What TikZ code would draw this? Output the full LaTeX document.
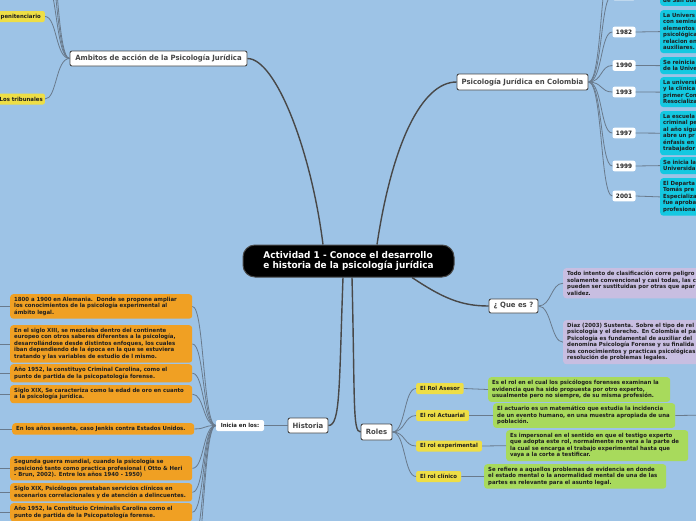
\documentclass[tikz,border=0pt]{standalone}
\usepackage{fontspec}
\setmainfont{DejaVu Sans}[FakeStretch=0.96]
\usetikzlibrary{calc}
\definecolor{bgblue}{RGB}{157,195,230}
\definecolor{orangebox}{RGB}{240,160,35}
\definecolor{yellowbox}{RGB}{238,222,70}
\definecolor{greenbox}{RGB}{168,218,92}
\definecolor{cyanbox}{RGB}{20,200,225}
\definecolor{purplebox}{RGB}{200,190,225}
\definecolor{mainline}{RGB}{72,72,72}
\definecolor{subline}{RGB}{105,122,140}
\definecolor{topictext}{RGB}{70,70,70}
\definecolor{desctext}{RGB}{30,30,30}
\newcommand\fsmall{\fontsize{5.6}{6.5}\selectfont\bfseries}
\newcommand\fmid{\fontsize{7.2}{9}\selectfont\bfseries}
\newcommand\fbig{\fontsize{9.3}{10.6}\selectfont\bfseries}
\newcommand\fyear{\fontsize{6.0}{7}\selectfont\bfseries}
\begin{document}
\begin{tikzpicture}[x=1pt,y=-1pt,
  central/.style={fill=black, draw=mainline, line width=1pt, rounded corners=12pt, minimum width=211pt, minimum height=32pt, text=white, font=\fbig, align=left, inner sep=0pt},
  topic/.style={fill=white, draw=mainline, line width=0.9pt, rounded corners=2pt, text=topictext, font=\fmid, inner sep=0pt},
  plainbox/.style={fill=white, rounded corners=2pt, text=desctext, font=\fsmall, inner sep=0pt},
  yearbox/.style={fill=white, rounded corners=2pt, text=desctext, font=\fyear, minimum width=23pt, minimum height=10.6pt, inner sep=0pt},
  desc/.style={rounded corners=3pt, inner xsep=4pt, inner ysep=3pt, align=left, font=\fsmall, text=desctext, anchor=north west},
  cyanb/.style={desc, fill=cyanbox, inner xsep=3pt, text width=110pt},
  purpleb/.style={desc, fill=purplebox, text width=250pt},
  greenb/.style={desc, fill=greenbox, text width=174pt},
  orangeb/.style={desc, fill=orangebox, text width=174pt},
  yellowb/.style={fill=yellowbox, rounded corners=2pt, font=\fsmall, text=desctext, inner xsep=4pt, inner ysep=0pt, minimum height=11pt},
  mainl/.style={draw=mainline, line width=1.4pt},
  subl/.style={draw=subline, line width=0.8pt}
]
\useasboundingbox (0,0) rectangle (696,520);
\clip (0,0) rectangle (696,520);
\fill[bgblue] (-10,-10) rectangle (710,530);

% central and topics
\node[central] (cen) at (348.5,261) {Actividad 1 - Conoce el desarrollo\\e historia de la psicología jurídica};
\node[topic, minimum width=177pt, minimum height=15pt] (amb) at (158.5,58.5) {Ambitos de acción de la Psicología Jurídica};
\node[topic, minimum width=131pt, minimum height=16pt] (col) at (522.5,82) {Psicología Jurídica en Colombia};
\node[topic, minimum width=49pt, minimum height=14pt] (que) at (513.5,306) {¿ Que es ?};
\node[topic, minimum width=40pt, minimum height=15pt] (his) at (308,425.5) {Historia};
\node[topic, minimum width=31pt, minimum height=16pt] (rol) at (376.5,432) {Roles};
\node[plainbox, minimum width=48pt, minimum height=11pt] (ini) at (240,425.5) {Inicia en los:};

% Ambitos children
\node[yellowb, anchor=east, text width=50pt, align=right] (pen) at (45,16.5) {penitenciario};
\node[yellowb, anchor=east, text width=50pt, align=right, inner xsep=2pt] (tri) at (45,99) {Los tribunales};
\coordinate (amb1) at (45,-20);
\coordinate (amb2) at (45,-50);
\coordinate (amb3) at (45,-85);

% Colombia children
\node[yearbox] (y00) at (624,-5) {};
\coordinate (y0b) at (612,-40);
\node[yearbox] (y82) at (624,32) {1982};
\node[yearbox] (y90) at (624,65.5) {1990};
\node[yearbox] (y93) at (624,92) {1993};
\node[yearbox] (y97) at (624,133) {1997};
\node[yearbox] (y99) at (624,166) {1999};
\node[yearbox] (y01) at (624,196) {2001};
\node[cyanb, anchor=south west] (d00) at (660,6) {~\\~\\~\\de San bue};
\node[cyanb] (d82) at (660,10) {La Univers\\con semina\\elementos\\psicológica\\relacion en\\auxiliares.};
\node[cyanb] (d90) at (660,57) {Se reinicia\\de la Unive};
\node[cyanb] (d93) at (660,77) {La universi\\y la clínica\\primer Con\\Resocializa};
\node[cyanb] (d97) at (660,111) {La escuela\\criminal pe\\al año sigu\\abre un pr\\énfasis en\\trabajador};
\node[cyanb] (d99) at (660,157) {Se inicia la\\Universida};
\node[cyanb] (d01) at (660,178) {El Departa\\Tomás pre\\Especializa\\fue aproba\\profesiona};

% Que es children
\node[purpleb] (p1) at (563,268) {Todo intento de clasificación corre peligro\\solamente convencional y casi todas, las c\\pueden ser sustituidas por otras que apar\\validez.};
\node[purpleb] (p2) at (563,320) {Diaz (2003) Sustenta. Sobre el tipo de rel\\psicología y el derecho. En Colombia el pa\\Psicología es fundamental de auxiliar del\\denomina Psicología Forense y su finalida\\los conocimientos y practicas psicológicas\\resolución de problemas legales.};

% Roles children
\node[yellowb, anchor=west] (ra) at (416,388.5) {El Rol Asesor};
\node[yellowb, anchor=west] (rb) at (416,415.5) {El rol Actuarial};
\node[yellowb, anchor=west] (rc) at (416,446) {El rol experimental};
\node[yellowb, anchor=west] (rd) at (416,476.5) {El rol clínico};
\node[greenb] (ga) at (488,377) {Es el rol en el cual los psicólogos forenses examinan la\\evidencia que ha sido propuesta por otro experto,\\usualmente pero no siempre, de su misma profesión.};
\node[greenb] (gb) at (493,403) {El actuario es un matemático que estudia la incidencia\\de un evento humano, en una muestra apropiada de una\\población.};
\node[greenb] (gc) at (506,430) {Es impersonal en el sentido en que el testigo experto\\que adopta este rol, normalmente no vera a la parte de\\la cual se encarga el trabajo experimental hasta que\\vaya a la corte a testificar.};
\node[greenb] (gd) at (484,464) {Se refiere a aquellos problemas de evidencia en donde\\el estado mental o la anormalidad mental de una de las\\partes es relevante para el asunto legal.};
\coordinate (gbx) at (710,415);

% Historia children
\node[orangeb] (o1) at (10,294) {1800 a 1900 en Alemania.\ \ Donde se propone ampliar\\los conocimientos de la psicología experimental al\\ámbito legal.};
\node[orangeb] (o2) at (10,325) {En el siglo XIII, se mezclaba dentro del continente\\europeo con otros saberes diferentes a la psicología,\\desarrollándose desde distintos enfoques, los cuales\\iban dependiendo de la época en la que se estuviera\\tratando y las variables de estudio de l mismo.};
\node[orangeb] (o3) at (10,364) {Año 1952, la constituyo Criminal Carolina, como el\\punto de partida de la psicopatología forense.};
\node[orangeb] (o4) at (10,385) {Siglo XIX, Se caracteriza como la edad de oro en cuanto\\a la psicología jurídica.};
\node[orangeb] (o5) at (12,423) {En los años sesenta, caso Jenkis contra Estados Unidos.};
\node[orangeb] (o6) at (10,456) {Segunda guerra mundial, cuando la psicología se\\posicionó tanto como practica profesional ( Otto \& Heri\\- Brun, 2002). Entre los años 1940 - 1950)};
\node[orangeb] (o7) at (10,483) {Siglo XIX, Psicólogos prestaban servicios clínicos en\\escenarios correlacionales y de atención a delincuentes.};
\node[orangeb] (o8) at (10,503) {Año 1952, la Constitucio Criminalis Carolina como el\\punto de partida de la Psicopatología forense.};
\coordinate (o9) at (192,545);
\coordinate (o10) at (192,575);
\foreach \n in {1,...,8} { \coordinate (l\n) at ($(o\n.west)+(-20,0)$); }

% main connectors
\draw[mainl] ($(cen.north)+(-25.5,0)$) .. controls +(-12,-95) and +(28,0) .. (amb.east);
\draw[mainl] ($(cen.north)+(28.5,0)$) .. controls +(15,-100) and +(-35,0) .. (col.west);
\draw[mainl] ($(cen.south)+(63.5,0)$) .. controls +(30,20) and +(-28,0) .. (que.west);
\draw[mainl] ($(cen.south)+(-5.5,0)$) .. controls +(-4,110) and +(12,0) .. (his.east);
\draw[mainl] ($(cen.south)+(3.5,0)$) .. controls +(3,125) and +(-8,0) .. (rol.west);

% sub connectors
\foreach \t in {pen.east,tri.east,amb1,amb2,amb3}
  \draw[subl] (amb.west) .. controls +(-14,0) and +(12,0) .. (\t);
\foreach \t in {y00,y82,y90,y93,y97,y99,y01}
  \draw[subl] (col.east) .. controls +(14,0) and +(-12,0) .. (\t.west);
\draw[subl] (col.east) .. controls +(14,0) and +(-12,0) .. (y0b);
\foreach \t in {00,82,90,93,97,99,01}
  \draw[subl] (y\t.east) -- (d\t.west);
\foreach \t in {p1,p2}
  \draw[subl] (que.east) .. controls +(13,0) and +(-12,0) .. (\t.west);
\foreach \t in {ra,rb,rc,rd}
  \draw[subl] (rol.east) .. controls +(13,0) and +(-12,0) .. (\t.west);
\draw[subl] (ra.east) -- (ga.west);
\draw[subl] (rb.east) -- (gb.west);
\draw[subl] (rc.east) -- (gc.west);
\draw[subl] (rd.east) -- (gd.west);
\draw[subl] (gb.east) -- (gbx);
\draw[subl] (his.west) -- (ini.east);
\foreach \t in {o1.east,o2.east,o3.east,o4.east,o5.east,o6.east,o7.east,o8.east,o9,o10}
  \draw[subl] (ini.west) .. controls +(-13,0) and +(12,0) .. (\t);
\foreach \n in {1,...,8}
  \draw[subl] (o\n.west) -- (l\n);
\end{tikzpicture}
\end{document}
